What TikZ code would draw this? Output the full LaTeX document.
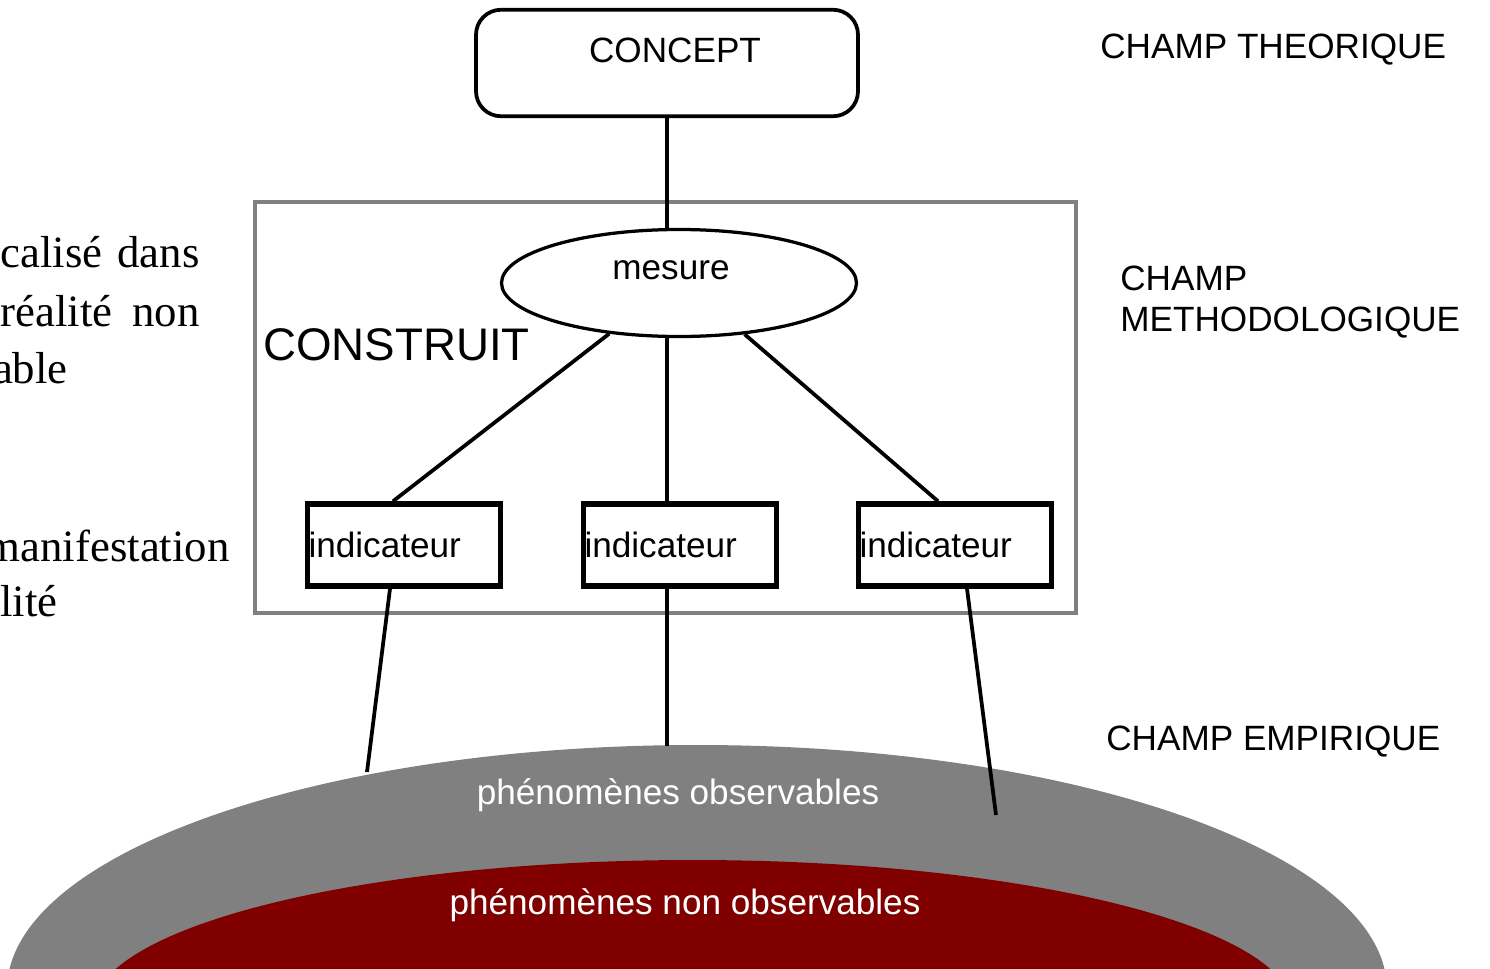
\documentclass[tikz,border=0pt]{standalone}
\usepackage{fontspec}
\setmainfont{Liberation Serif}
\setsansfont{Liberation Sans}
\usetikzlibrary{positioning}
\usetikzlibrary{shapes}

\begin{document}
\begin{tikzpicture}[x=0.2mm, y=-0.2mm,
	font=\sffamily\fontsize{20}{23}\selectfont,
	indBox/.style={rectangle, draw, line width=1.1mm, minimum width=38.6mm, minimum height=16.4mm, text width=38.2mm, inner sep=0.2mm, align=left},
	link/.style={line width=0.75mm},
	champ/.style={anchor=west, inner sep=0pt, align=left},
	leftLine/.style={anchor=base east, inner sep=0pt, font=\rmfamily\fontsize{25.5}{30}\selectfont}]
	\useasboundingbox (0,0) rectangle (1490,968);
	\clip (0,0) rectangle (1490,968);

	% champ empirique
	\fill[gray] (697,990) ellipse [x radius=690, y radius=245];
	\fill[red!50!black] (693,1010) ellipse [x radius=600, y radius=150];
	\node[text=white] (obsText) at (678,795) {phénomènes observables};
	\node[text=white] (nonObsText) at (685,905) {phénomènes non observables};

	% champ methodologique
	\node[rectangle, draw=gray, line width=0.8mm, minimum width=164.2mm, minimum height=82.2mm](construitBox) at (665.5,407.5){};
	\node[champ, font=\sffamily\fontsize{26}{30}\selectfont](construit) at (263,345){CONSTRUIT};

	\node[rectangle, rounded corners=5mm, draw, line width=0.75mm, minimum width=76.4mm, minimum height=21.3mm, label={[xshift=1.6mm, yshift=2.6mm]center:CONCEPT}](conceptBox) at (667,63){};
	\node[ellipse, draw, line width=0.65mm, minimum width=71mm, minimum height=21.4mm, label={[xshift=-1.6mm, yshift=2.6mm]center:mesure}](mesure) at (679,283){};

	\node[indBox](ind1Box) at (404,545){indicateur};
	\node[indBox](ind2Box) at (680,545){indicateur};
	\node[indBox](ind3Box) at (955,545){indicateur};

	\coordinate (foot1) at (367,772);
	\coordinate (foot2) at (667,746);
	\coordinate (foot3) at (996,815);

	\draw[link] (conceptBox) -- (conceptBox |- mesure.north);
	\draw[link] (conceptBox |- mesure.south) -- (conceptBox |- ind2Box.north);
	\draw[link] (mesure.216) -- ([xshift=-2.2mm]ind1Box.north);
	\draw[link] (mesure.322) -- ([xshift=-3.4mm]ind3Box.north);
	\draw[link] ([xshift=-2.8mm]ind1Box.south) -- (foot1);
	\draw[link] (conceptBox |- ind2Box.south) -- (foot2);
	\draw[link] ([xshift=2.4mm]ind3Box.south) -- (foot3);

	% champs
	\node[champ](theo) at (1100,50){CHAMP THEORIQUE};
	\node[champ](metho) at (1120,302){CHAMP\\METHODOLOGIQUE};
	\node[champ](empi) at (1106,742){CHAMP EMPIRIQUE};

	% texte de gauche
	\node[leftLine](left1) at (200,267){\makebox[39.8mm][s]{calisé dans}};
	\node[leftLine](left2) at (200,326){\makebox[39.8mm][s]{réalité non}};
	\node[leftLine](left3) at (68,383){able};
	\node[leftLine](left4) at (230,561){manifestation};
	\node[leftLine](left5) at (58,616){lité};
\end{tikzpicture}
\end{document}
